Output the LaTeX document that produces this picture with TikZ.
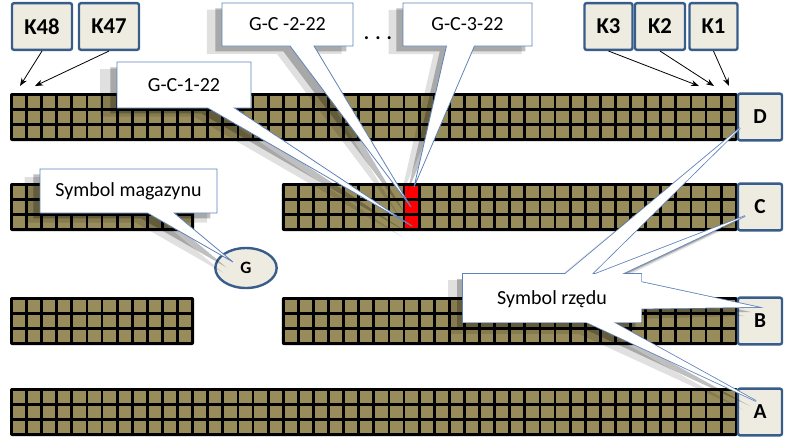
\documentclass[tikz,border=0pt]{standalone}
\usepackage{fontspec}
\setmainfont{Carlito}
\usetikzlibrary{shapes.callouts,shapes.geometric,shadows,arrows.meta}

\definecolor{cellolive}{RGB}{152,141,90}
\definecolor{labelfill}{RGB}{238,236,225}
\definecolor{labelblue}{RGB}{56,93,138}
\definecolor{calloutblue}{RGB}{95,130,185}

\begin{document}
\begin{tikzpicture}[x=0.75pt,y=-0.75pt]
  \useasboundingbox (0,0) rectangle (785,437);

  \tikzstyle{colbox} = [
    rectangle,
    draw=labelblue,
    line width=1.8pt,
    fill=labelfill,
    rounded corners=1.5pt,
    inner sep=0pt,
    minimum height=35pt,
    font=\fontsize{17}{20}\selectfont\bfseries
  ]
  \tikzstyle{rowbox} = [colbox, minimum width=33pt, font=\fontsize{16}{19}\selectfont\bfseries]
  \tikzstyle{bubble} = [
    rectangle callout,
    draw=calloutblue,
    line width=0.6pt,
    fill=white,
    inner sep=0pt,
    font=\fontsize{15}{18}\selectfont
  ]
  \tikzstyle{shadowed} = [
    drop shadow={shadow xshift=-9pt, shadow yshift=-7pt, shadow scale=1.03, opacity=.12, fill=black},
    drop shadow={shadow xshift=-5pt, shadow yshift=-4pt, opacity=.25, fill=black}
  ]
  \tikzstyle{arrow} = [semithick, ->, >={Stealth[length=6pt,width=4.5pt]}]

  % racks: top edge / first column / last column
  \foreach \ytop/\cfirst/\clast in {93/0/47, 183/0/11, 183/18/47, 297/0/11, 297/18/47, 388/0/47} {
    \fill[rounded corners=1.5pt] (10+\cfirst*15.1, \ytop) rectangle (12.8+\clast*15.1+15.1, \ytop+48);
    \foreach \c in {\cfirst,...,\clast}
      \foreach \r in {0,1,2}
        \fill[cellolive] (12.8+\c*15.1, \ytop+3+\r*15) rectangle ++(12.3,12);
  }

  % slot K22 in row C
  \foreach \r in {0,1,2}
    \fill[red] (12.8+26*15.1, 186+\r*15) rectangle ++(12.3,12);

  % row symbols
  \node[rowbox] (rowD) at (760,117) {D};
  \node[rowbox] (rowC) at (760,207) {C};
  \node[rowbox] (rowB) at (760,321) {B};
  \node[rowbox] (rowA) at (760,412) {A};

  % column symbols
  \node[colbox, minimum width=45pt] (K48) at (42,26.5) {K48};
  \node[colbox, minimum width=45pt] (K47) at (109,26.5) {K47};
  \node[colbox, minimum width=36pt] (K3) at (608.5,26.5) {K3};
  \node[colbox, minimum width=37.5pt] (K2) at (660,26.5) {K2};
  \node[colbox, minimum width=36pt] (K1) at (713.5,26.5) {K1};

  \coordinate (col48) at (20,86);
  \coordinate (col47) at (35,86);
  \coordinate (col3) at (699,86);
  \coordinate (col2) at (714,86);
  \coordinate (col1) at (729,86);

  \draw[arrow] (K48.south) -- (col48);
  \draw[arrow] (K47.south) -- (col47);
  \draw[arrow] (K3.south) -- (col3);
  \draw[arrow] (K2.south) -- (col2);
  \draw[arrow] (K1.south) -- (col1);

  % store
  \node[ellipse, draw=labelblue, line width=1.8pt, fill=labelfill, minimum width=46pt, minimum height=30pt,
        font=\fontsize{13}{15}\selectfont\bfseries] (storeG) at (246,268) {G};

  % callout tips
  \coordinate (tipLevel3) at (414,187);
  \coordinate (tipLevel2) at (411,207);
  \coordinate (tipLevel1) at (412,226);
  \coordinate (tipStore) at (233,262);
  \coordinate (tipD) at (740,128);
  \coordinate (tipC) at (745,216);
  \coordinate (tipB) at (757,307);
  \coordinate (tipA) at (756,401);

  % slot callouts
  \node[bubble, shadowed, minimum width=98.25pt, minimum height=32.25pt,
        callout absolute pointer={(tipLevel2)}, callout pointer width=18pt] (calloutL2) at (287.5,24.5) {G-C -2-22};
  \node[bubble, shadowed, minimum width=96.75pt, minimum height=32.25pt,
        callout absolute pointer={(tipLevel3)}, callout pointer width=21pt] (calloutL3) at (467.5,24.5) {G-C-3-22};
  \node[bubble, shadowed, minimum width=100.5pt, minimum height=34.5pt,
        callout absolute pointer={(tipLevel1)}, callout pointer width=20pt] (calloutL1) at (184,85) {G-C-1-22};
  \node[font=\fontsize{15}{18}\selectfont\bfseries] (dots) at (378,38) {. . .};

  % store callout
  \node[bubble, shadowed, minimum width=132.75pt, minimum height=33pt,
        callout absolute pointer={(tipStore)}, callout pointer width=20pt] (calloutStore) at (128.5,191) {Symbol magazynu};

  % row callout, four pointers
  \begin{scope}[transparency group, opacity=.12]
    \foreach \tip in {tipD,tipC,tipB,tipA}
      \node[bubble, draw=none, fill=black, minimum width=138pt, minimum height=40pt,
            callout absolute pointer={([shift={(-12,9)}]\tip)}, callout pointer width=22pt] (haze-\tip) at (540,307) {};
  \end{scope}
  \begin{scope}[transparency group, opacity=.25]
    \foreach \tip in {tipD,tipC,tipB,tipA}
      \node[bubble, draw=none, fill=black, minimum width=133.5pt, minimum height=36pt,
            callout absolute pointer={([shift={(-6,5)}]\tip)}, callout pointer width=20pt] (shade-\tip) at (546,303) {};
  \end{scope}
  \foreach \tip in {tipD,tipC,tipB,tipA}
    \node[bubble, line width=1.2pt, minimum width=133.5pt, minimum height=36pt,
          callout absolute pointer={(\tip)}, callout pointer width=20pt] (line-\tip) at (552,298) {};
  \foreach \tip in {tipD,tipC,tipB,tipA}
    \node[bubble, draw=none, minimum width=133.5pt, minimum height=36pt,
          callout absolute pointer={(\tip)}, callout pointer width=20pt] (face-\tip) at (552,298) {};
  \node[font=\fontsize{15}{18}\selectfont] (rowsymbol) at (552,299) {Symbol rzędu};
\end{tikzpicture}
\end{document}
